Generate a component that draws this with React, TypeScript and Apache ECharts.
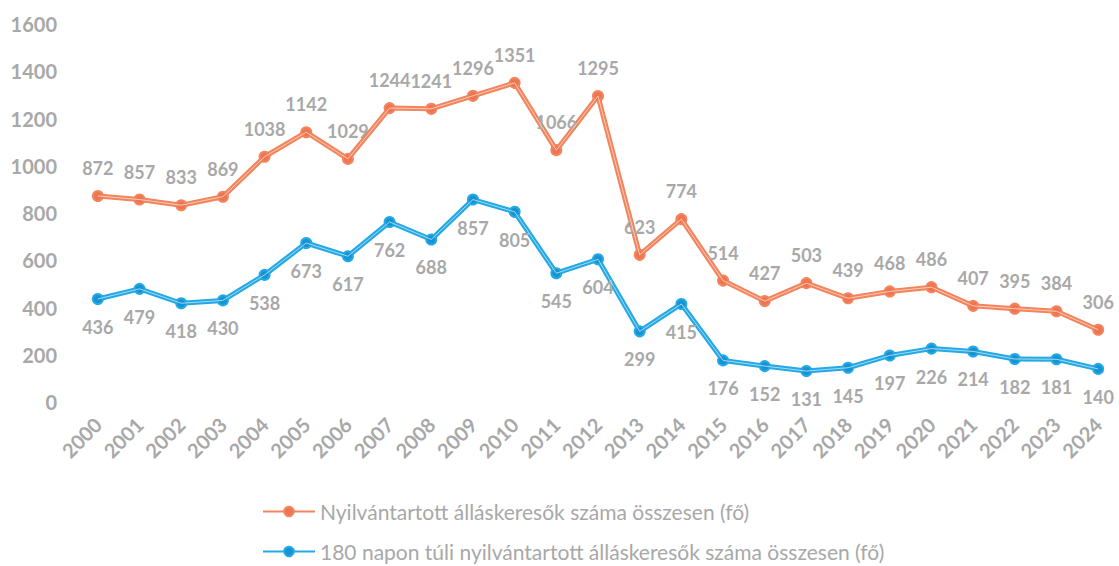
import React, { useEffect, useRef } from "react";
import * as echarts from "echarts";

const years = ["2000","2001","2002","2003","2004","2005","2006","2007","2008","2009","2010","2011","2012","2013","2014","2015","2016","2017","2018","2019","2020","2021","2022","2023","2024"];
const totalSeekers = [872,857,833,869,1038,1142,1029,1244,1241,1296,1351,1066,1295,623,774,514,427,503,439,468,486,407,395,384,306];
const longTermSeekers = [436,479,418,430,538,673,617,762,688,857,805,545,604,299,415,176,152,131,145,197,226,214,182,181,140];
const seriesNames = [
  "Nyilvántartott álláskeresők száma összesen (fő)",
  "180 napon túli nyilvántartott álláskeresők száma összesen (fő)",
];
const yTicks = { min: 0, max: 1600, interval: 200 };

const FONT = "Lato, 'Open Sans', sans-serif";
const GRAY = "#A8A8A8";
const ORANGE = "#F2845E";
const BLUE = "#22A9E6";

export default function App() {
  const ref = useRef<HTMLDivElement>(null);
  useEffect(() => {
    if (!ref.current) return;
    const chart = echarts.init(ref.current, undefined, { renderer: "svg" });
    const labelBase = { color: GRAY, fontSize: 18, fontWeight: "bold", fontFamily: FONT };
    chart.setOption({
      animation: false,
      backgroundColor: "#fff",
      textStyle: { fontFamily: FONT },
      grid: { left: 77, right: 0, top: 24, bottom: 164 },
      legend: {
        orient: "vertical",
        left: 262,
        top: 501,
        padding: 0,
        itemWidth: 52,
        itemHeight: 12,
        itemGap: 19,
        textStyle: { color: GRAY, fontSize: 21, fontFamily: FONT },
        data: seriesNames,
      },
      xAxis: {
        type: "category",
        data: years,
        boundaryGap: true,
        axisLine: { show: false },
        axisTick: { show: false },
        axisLabel: { rotate: 45, color: GRAY, fontSize: 20, fontWeight: "bold", margin: 19, fontFamily: FONT },
      },
      yAxis: {
        type: "value",
        min: yTicks.min,
        max: yTicks.max,
        interval: yTicks.interval,
        axisLine: { show: false },
        axisTick: { show: false },
        splitLine: { show: false },
        axisLabel: {
          color: GRAY, fontSize: 20, fontWeight: "bold", margin: 20, fontFamily: FONT,
          formatter: (v: number) => String(v),
        },
      },
      series: [
        {
          name: seriesNames[0],
          type: "line",
          data: totalSeekers,
          symbol: "circle",
          symbolSize: 10,
          lineStyle: { color: ORANGE, width: 5 },
          itemStyle: { color: "#EE7552", borderColor: ORANGE, borderWidth: 2 },
          label: { show: true, position: "top", distance: 13, ...labelBase },
          z: 2,
        },
        {
          name: seriesNames[1],
          type: "line",
          data: longTermSeekers,
          symbol: "circle",
          symbolSize: 10,
          lineStyle: { color: BLUE, width: 5 },
          itemStyle: { color: "#1593D3", borderColor: BLUE, borderWidth: 2 },
          label: { show: true, position: "bottom", distance: 13, ...labelBase },
          z: 2,
        },
        {
          name: "totalInner",
          type: "line",
          data: totalSeekers,
          symbol: "none",
          silent: true,
          lineStyle: { color: "rgba(255,215,195,0.85)", width: 1 },
          z: 3,
        },
        {
          name: "longInner",
          type: "line",
          data: longTermSeekers,
          symbol: "none",
          silent: true,
          lineStyle: { color: "rgba(190,225,240,0.85)", width: 1 },
          z: 3,
        },
      ],
    });
    return () => chart.dispose();
  }, []);
  return (
    <div
      ref={ref}
      style={{ position: "fixed", left: 0, top: 0, width: 1119, height: 566 }}
    />
  );
}
